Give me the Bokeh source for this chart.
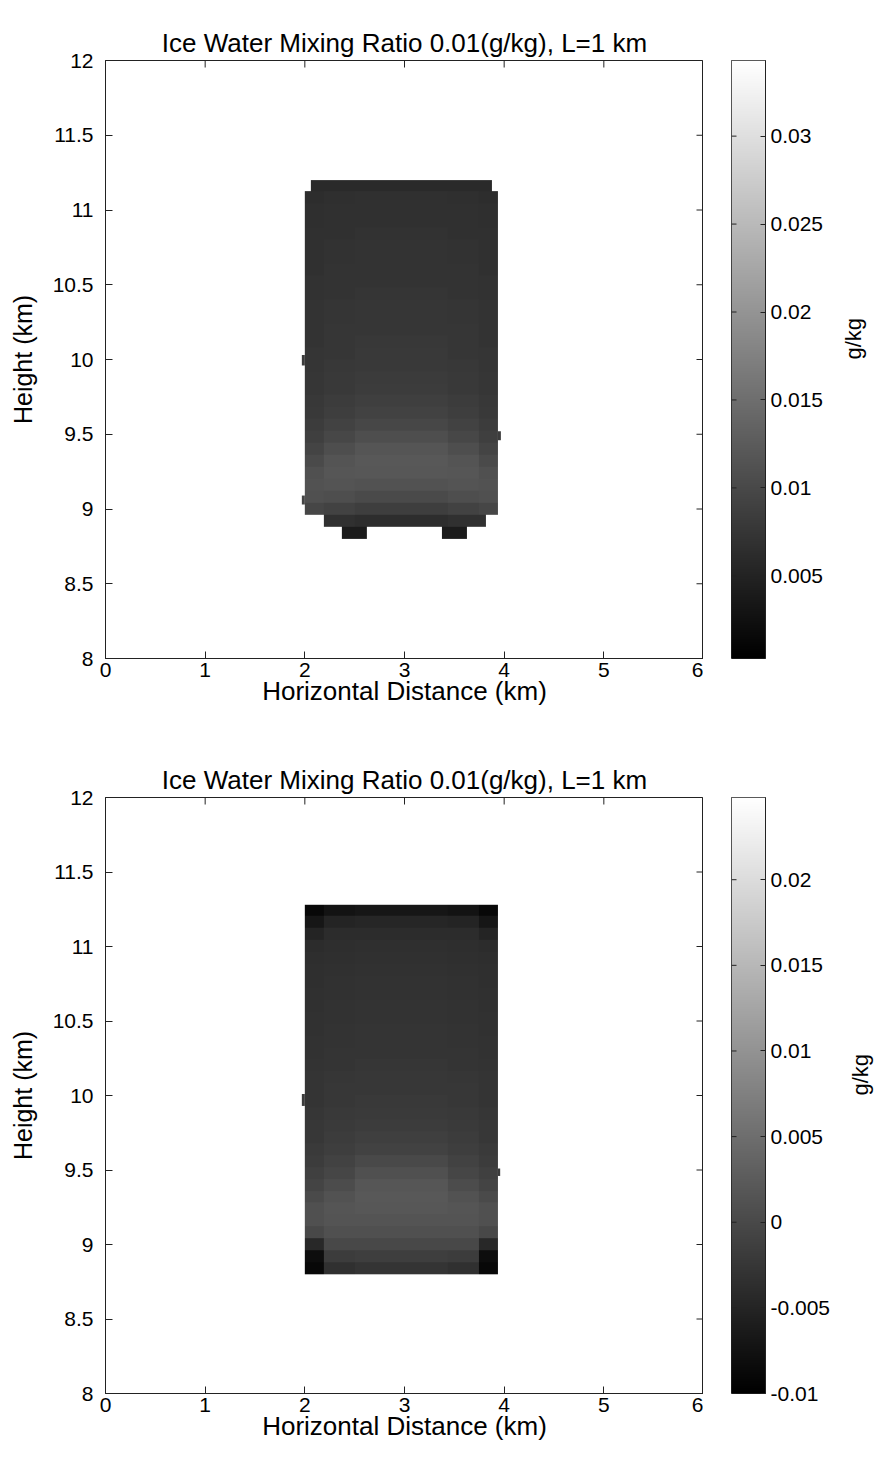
import math
import numpy as np
from bokeh.plotting import figure
from bokeh.layouts import column, row
from bokeh.models import LinearColorMapper, FixedTicker, LinearAxis, Range1d, ColumnDataSource
from bokeh.embed import file_html
from bokeh.resources import INLINE

TITLE = "Ice Water Mixing Ratio 0.01(g/kg), L=1 km"
X_LABEL = "Horizontal Distance (km)"
Y_LABEL = "Height (km)"
CB_LABEL = "g/kg"

x_ticks = [0, 1, 2, 3, 4, 5, 6]
x_tick_labels = ["0", "1", "2", "3", "4", "5", "6"]
y_ticks = [8, 8.5, 9, 9.5, 10, 10.5, 11, 11.5, 12]
y_tick_labels = ["8", "8.5", "9", "9.5", "10", "10.5", "11", "11.5", "12"]

cb1_ticks = [0.005, 0.01, 0.015, 0.02, 0.025, 0.03]
cb1_labels = ["0.005", "0.01", "0.015", "0.02", "0.025", "0.03"]
cb1_range = [0.0003, 0.0343]
cb2_ticks = [-0.01, -0.005, 0, 0.005, 0.01, 0.015, 0.02]
cb2_labels = ["-0.01", "-0.005", "0", "0.005", "0.01", "0.015", "0.02"]
cb2_range = [-0.01, 0.0248]

# model grid (km)
grid_dx = 0.0625
grid_dz = 0.08
grid_x0 = 2.0
grid_z0 = 8.8
# column zones across the cloud: E = edge, M = middle, C = centre
col_zones = ["E"] * 3 + ["M"] * 5 + ["C"] * 15 + ["M"] * 5 + ["E"] * 3

# panel 1 (g/kg), rows from 8.8 km upward
top_center = [0.0040, 0.0064, 0.0086, 0.0102, 0.0112, 0.0119, 0.0120, 0.0116, 0.0107, 0.0098,
              0.0091, 0.0087, 0.0084, 0.0082, 0.0080, 0.0079, 0.0078, 0.0076, 0.0075, 0.0075,
              0.0074, 0.0072, 0.0072, 0.0071, 0.0071, 0.0070, 0.0068, 0.0068, 0.0067, 0.0059]
top_mid = [0.0040, 0.0067, 0.0091, 0.0107, 0.0115, 0.0118, 0.0115, 0.0107, 0.0098, 0.0091,
           0.0086, 0.0083, 0.0080, 0.0079, 0.0078, 0.0076, 0.0076, 0.0075, 0.0074, 0.0074,
           0.0072, 0.0071, 0.0071, 0.0070, 0.0070, 0.0068, 0.0067, 0.0067, 0.0066, 0.0059]
top_edge = [0.0040, 0.0067, 0.0096, 0.0110, 0.0112, 0.0110, 0.0102, 0.0094, 0.0087, 0.0083,
            0.0080, 0.0078, 0.0076, 0.0075, 0.0074, 0.0074, 0.0072, 0.0072, 0.0071, 0.0071,
            0.0070, 0.0070, 0.0068, 0.0068, 0.0067, 0.0067, 0.0066, 0.0066, 0.0064, 0.0059]
# occupied column index ranges for rows that are not full width
top_row_spans = {0: [(6, 10), (22, 26)], 1: [(3, 29)], 29: [(1, 30)]}
top_bumps_x0 = [1.97, 1.97, 3.9375]
top_bumps_x1 = [2.0, 2.0, 3.967]
top_bumps_z0 = [9.96, 9.03, 9.46]
top_bumps_z1 = [10.03, 9.09, 9.52]
top_bumps_v = [0.0083, 0.0094, 0.0083]

# panel 2 (g/kg)
bot_center = [-0.0029, -0.0015, -0.0002, 0.0009, 0.0015, 0.0019, 0.0020, 0.0017, 0.0009, 0.0000,
              -0.0009, -0.0014, -0.0018, -0.0021, -0.0022, -0.0024, -0.0025, -0.0026, -0.0028, -0.0029,
              -0.0029, -0.0030, -0.0030, -0.0032, -0.0032, -0.0033, -0.0034, -0.0036, -0.0039, -0.0048,
              -0.0070]
bot_mid = [-0.0034, -0.0018, -0.0002, 0.0009, 0.0015, 0.0016, 0.0012, 0.0004, -0.0004, -0.0010,
           -0.0015, -0.0018, -0.0021, -0.0022, -0.0024, -0.0025, -0.0026, -0.0028, -0.0029, -0.0030,
           -0.0030, -0.0032, -0.0032, -0.0033, -0.0033, -0.0034, -0.0036, -0.0037, -0.0040, -0.0051,
           -0.0073]
bot_edge = [-0.0089, -0.0081, -0.0045, -0.0002, 0.0009, 0.0009, 0.0001, -0.0007, -0.0013, -0.0018,
            -0.0021, -0.0024, -0.0025, -0.0026, -0.0028, -0.0029, -0.0029, -0.0030, -0.0032, -0.0032,
            -0.0033, -0.0033, -0.0034, -0.0034, -0.0036, -0.0036, -0.0037, -0.0040, -0.0051, -0.0070,
            -0.0089]
bot_row_spans = {}
bot_bumps_x0 = [1.97, 3.9375]
bot_bumps_x1 = [2.0, 3.96]
bot_bumps_z0 = [9.93, 9.46]
bot_bumps_z1 = [10.01, 9.51]
bot_bumps_v = [-0.0018, -0.0018]

GRAY = ["#%02x%02x%02x" % (i, i, i) for i in range(256)]
FONT = "Liberation Sans"
LINE = "#222222"
TICK_PX = 7
FRAME_W = 598
CB_W = 34


def build_field(center, mid, edge, spans):
    n = len(center)
    ncol = len(col_zones)
    arr = np.full((n, ncol), np.nan)
    prof = {"C": center, "M": mid, "E": edge}
    for r in range(n):
        if r in spans:
            cols = [c for a, b in spans[r] for c in range(a, b)]
        else:
            cols = range(ncol)
        for c in cols:
            arr[r, c] = prof[col_zones[c]][r]
    return arr


def style_axis(ax, ticks, labels, tick_in=TICK_PX):
    ax.ticker = FixedTicker(ticks=ticks)
    ax.major_label_overrides = dict(zip(ticks, labels))
    ax.major_tick_in = tick_in
    ax.major_tick_out = 0
    ax.minor_tick_line_color = None
    ax.axis_line_color = LINE
    ax.major_tick_line_color = LINE
    ax.major_label_text_font = FONT
    ax.major_label_text_color = "black"
    ax.major_label_text_font_size = "21px"
    ax.axis_label_text_font = FONT
    ax.axis_label_text_font_style = "normal"
    ax.axis_label_text_color = "black"


def make_panel(center, mid, edge, spans, bx0, bx1, bz0, bz1, bv, rng, cticks, clabels,
               frame_h, border_bottom):
    mapper = LinearColorMapper(palette=GRAY, low=rng[0], high=rng[1], nan_color=(255, 255, 255, 0))
    p = figure(frame_width=FRAME_W, frame_height=frame_h, x_range=Range1d(0, 6), y_range=Range1d(8, 12),
               output_backend="svg", toolbar_location=None,
               min_border_left=105, min_border_right=0, min_border_top=60,
               min_border_bottom=border_bottom, x_axis_location=None, y_axis_location=None)
    p.background_fill_color = "white"
    p.border_fill_color = "white"
    p.outline_line_color = LINE
    p.grid.visible = False
    p.title.text = TITLE
    p.title.align = "center"
    p.title.text_font = FONT
    p.title.text_font_size = "26px"
    p.title.text_font_style = "normal"
    p.title.text_color = "black"
    p.title.standoff = 6

    field = build_field(center, mid, edge, spans)
    nrow, ncol = field.shape
    p.image(image=[field], x=grid_x0, y=grid_z0, dw=ncol * grid_dx, dh=nrow * grid_dz,
            color_mapper=mapper)
    src = ColumnDataSource(dict(l=bx0, r=bx1, b=bz0, t=bz1, v=bv))
    p.quad(left="l", right="r", bottom="b", top="t", source=src,
           fill_color={"field": "v", "transform": mapper}, line_color=None)

    xb = LinearAxis(axis_label=X_LABEL)
    style_axis(xb, x_ticks, x_tick_labels)
    xb.major_label_standoff = 4
    xb.axis_label_standoff = -4
    xb.axis_label_text_font_size = "26px"
    p.add_layout(xb, "below")
    yl = LinearAxis(axis_label=Y_LABEL)
    style_axis(yl, y_ticks, y_tick_labels)
    yl.major_label_standoff = 12
    yl.axis_label_standoff = 13
    yl.axis_label_text_font_size = "25px"
    p.add_layout(yl, "left")

    # mirrored inward ticks on the top and right edges (box on)
    ty = 12 - TICK_PX / frame_h * 4
    p.segment(x0=x_ticks, y0=[12] * len(x_ticks), x1=x_ticks, y1=[ty] * len(x_ticks),
              line_color=LINE, line_width=1)
    tx = 6 - TICK_PX / FRAME_W * 6
    p.segment(x0=[6] * len(y_ticks), y0=y_ticks, x1=[tx] * len(y_ticks), y1=y_ticks,
              line_color=LINE, line_width=1)

    # colour bar
    c = figure(frame_width=CB_W, frame_height=frame_h, x_range=Range1d(0, 1),
               y_range=Range1d(rng[0], rng[1]), output_backend="svg", toolbar_location=None,
               min_border_left=28, min_border_right=60, min_border_top=60,
               min_border_bottom=border_bottom, x_axis_location=None, y_axis_location=None)
    c.grid.visible = False
    c.outline_line_color = LINE
    c.border_fill_color = "white"
    ramp = np.linspace(rng[0], rng[1], 256)[:, None]
    c.image(image=[ramp], x=0, y=rng[0], dw=1, dh=rng[1] - rng[0], color_mapper=mapper)
    cr = LinearAxis(axis_label=CB_LABEL)
    style_axis(cr, cticks, clabels, tick_in=5)
    cr.major_label_standoff = 5
    cr.axis_label_standoff = 27
    cr.axis_label_text_font_size = "22px"
    if "axis_label_orientation" in LinearAxis.properties():
        cr.axis_label_orientation = math.pi / 2
    c.add_layout(cr, "right")
    lx = 5 / CB_W
    c.segment(x0=[0] * len(cticks), y0=cticks, x1=[lx] * len(cticks), y1=cticks,
              line_color=LINE, line_width=1)
    return row(p, c)


top = make_panel(top_center, top_mid, top_edge, top_row_spans,
                 top_bumps_x0, top_bumps_x1, top_bumps_z0, top_bumps_z1, top_bumps_v,
                 cb1_range, cb1_ticks, cb1_labels, 598, 79)
bottom = make_panel(bot_center, bot_mid, bot_edge, bot_row_spans,
                    bot_bumps_x0, bot_bumps_x1, bot_bumps_z0, bot_bumps_z1, bot_bumps_v,
                    cb2_range, cb2_ticks, cb2_labels, 596, 74)
layout = column(top, bottom)

open("out.html", "w").write(file_html(layout, INLINE))
